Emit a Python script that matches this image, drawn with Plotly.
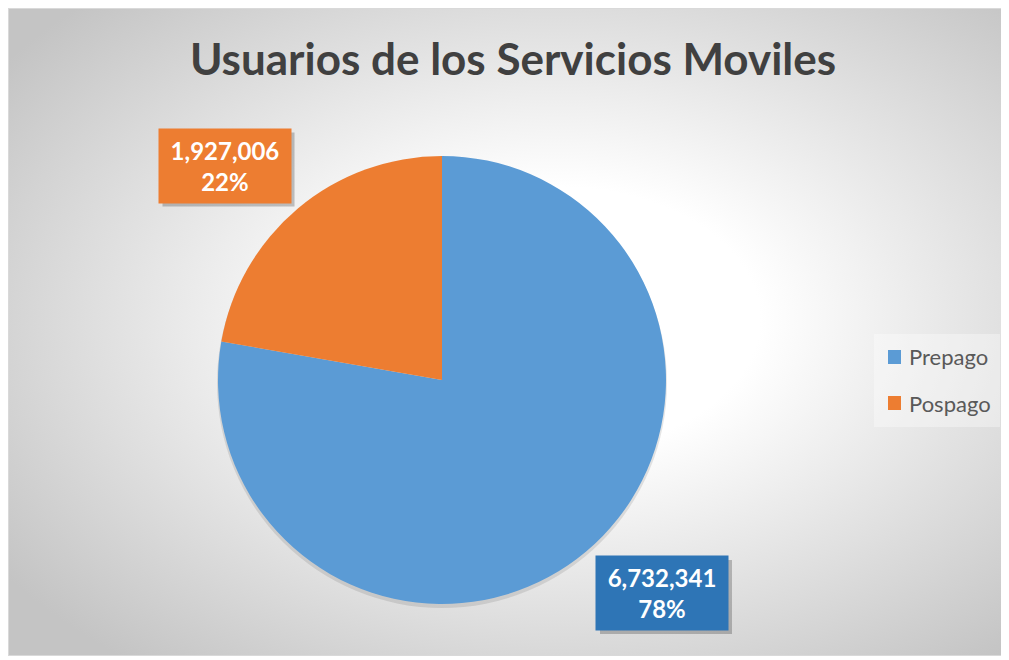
import base64
import plotly.graph_objects as go

# ---- data ----
labels = ["Prepago", "Pospago"]
values = [6732341, 1927006]
colors = ["#5B9BD5", "#ED7D31"]
label_box_colors = ["#2E75B6", "#ED7D31"]
title_text = "Usuarios de los Servicios Moviles"

W, H = 997, 648
OFF = 8  # page margin offset of the figure in the screenshot
FONT = "Lato"


def px(x):
    return (x - OFF) / W


def py(y):
    return 1 - (y - OFF) / H


# radial gradient background (style only)
svg = f'''<svg xmlns="http://www.w3.org/2000/svg" width="{W}" height="{H}" viewBox="0 0 {W} {H}">
<defs><radialGradient id="g" cx="0.55" cy="0.48" r="0.68" gradientUnits="objectBoundingBox">
<stop offset="0" stop-color="#FFFFFF"/><stop offset="0.30" stop-color="#FFFFFF"/>
<stop offset="1" stop-color="#C4C4C4"/></radialGradient></defs>
<rect width="{W}" height="{H}" fill="url(#g)"/></svg>'''
src = "data:image/svg+xml;base64," + base64.b64encode(svg.encode()).decode()

cx, cy, r = 442, 380, 224

fig = go.Figure(go.Pie(
    labels=labels, values=values, sort=False, direction="clockwise", rotation=0,
    marker=dict(colors=colors, line=dict(width=0)),
    textinfo="none", hoverinfo="label+value+percent",
    domain=dict(x=[px(cx - r), px(cx + r)], y=[py(cy + r), py(cy - r)]),
    showlegend=False,
))

shapes = [
    # pie soft shadow
    dict(type="circle", xref="paper", yref="paper", x0=px(cx - r - 1), x1=px(cx + r + 1),
         y0=py(cy + r + 4), y1=py(cy - r + 2), line=dict(width=0),
         fillcolor="rgba(0,0,0,0.10)", layer="below"),
    # legend box
    dict(type="rect", xref="paper", yref="paper", x0=px(874), x1=px(1000), y0=py(427), y1=py(334),
         line=dict(width=0), fillcolor="rgba(255,255,255,0.35)", layer="below"),
]

total = sum(values)
box_centers = [(662, 593), (224.5, 165.5)]
box_w, box_h = 132, 74
annotations = []
for lab, v, bc, (bx, by) in zip(labels, values, label_box_colors, box_centers):
    pct = round(v / total * 100)
    shapes.append(dict(type="rect", xref="paper", yref="paper",
                       x0=px(bx - box_w / 2 + 4), x1=px(bx + box_w / 2 + 4),
                       y0=py(by + box_h / 2 + 4), y1=py(by - box_h / 2 + 4),
                       line=dict(width=0), fillcolor="rgba(0,0,0,0.22)"))
    annotations.append(dict(
        xref="paper", yref="paper", x=px(bx), y=py(by), xanchor="center", yanchor="middle",
        text=f"<b>{v:,}<br>{pct}%</b>", showarrow=False, align="center",
        width=box_w, height=box_h, bgcolor=bc, borderpad=0,
        font=dict(family=FONT, size=24, color="white"),
    ))

# legend
leg_y = [357, 403]
for lab, col, ly in zip(labels, colors, leg_y):
    shapes.append(dict(type="rect", xref="paper", yref="paper", x0=px(888), x1=px(901),
                       y0=py(ly + 7), y1=py(ly - 7), line=dict(width=0), fillcolor=col))
    annotations.append(dict(xref="paper", yref="paper", x=px(907), y=py(ly), xanchor="left",
                            yanchor="middle", text=lab, showarrow=False,
                            font=dict(family=FONT, size=22, color="#595959")))

# chart border
shapes.append(dict(type="rect", xref="paper", yref="paper", x0=0, x1=1, y0=0, y1=1,
                   line=dict(color="#D9D9D9", width=2), fillcolor="rgba(0,0,0,0)", layer="above"))

fig.update_layout(
    width=W, height=H, margin=dict(l=0, r=0, t=0, b=0),
    paper_bgcolor="white", plot_bgcolor="white",
    title=dict(text=f"<b>{title_text}</b>", x=px(513), xanchor="center", y=py(60), yanchor="middle",
               font=dict(family=FONT, size=44, color="#404040")),
    images=[dict(source=src, xref="paper", yref="paper", x=0, y=1, sizex=1, sizey=1,
                 xanchor="left", yanchor="top", sizing="stretch", layer="below")],
    shapes=shapes, annotations=annotations,
)

fig.write_html("out.html")
